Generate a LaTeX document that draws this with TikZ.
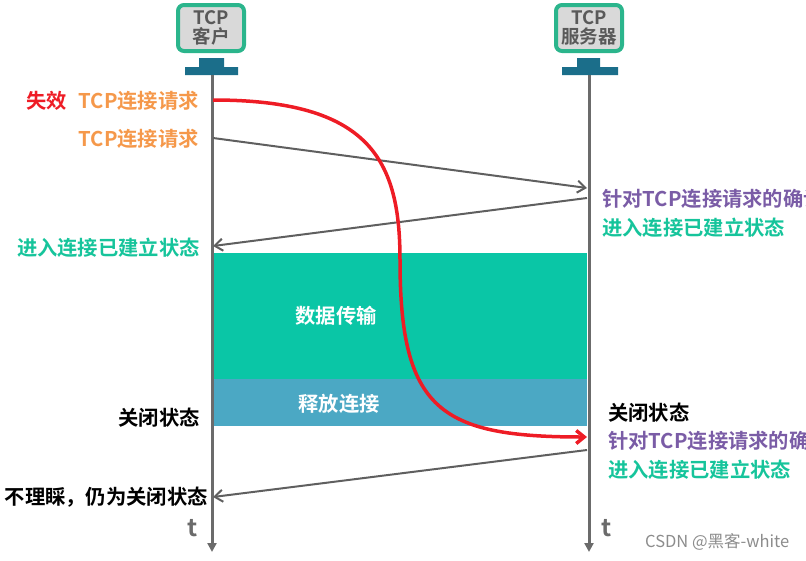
\documentclass[tikz,border=0pt]{standalone}
\usepackage{fontspec}
\setmainfont{Noto Sans CJK SC}[BoldFont={* Bold}]
\usetikzlibrary{arrows.meta}
\definecolor{boxgreen}{HTML}{2BB58C}
\definecolor{boxgrey}{HTML}{D9D9D9}
\definecolor{stemblue}{HTML}{1B6E8A}
\definecolor{lifegrey}{HTML}{6B6B6B}
\definecolor{arrgrey}{HTML}{5F5F5F}
\definecolor{failred}{HTML}{EE1C25}
\definecolor{reqorange}{HTML}{F5984A}
\definecolor{ackpurple}{HTML}{7A5CA6}
\definecolor{estgreen}{HTML}{16C49B}
\definecolor{datagreen}{HTML}{0AC6A6}
\definecolor{relblue}{HTML}{4BA8C4}
\tikzset{
  lbl/.style={font=\fontsize{20.3}{23}\selectfont\bfseries, inner sep=0pt},
  host/.style={draw=boxgreen, line width=4pt, fill=boxgrey, rounded corners=6pt,
    minimum width=66pt, minimum height=46pt, align=center, text=black!65,
    font=\fontsize{18.5}{19}\selectfont\bfseries, inner sep=0pt},
  life/.style={draw=lifegrey, line width=3pt, -{Triangle[length=9pt,width=9pt]}},
  msg/.style={draw=arrgrey, line width=2pt, -{Straight Barb[length=8pt,width=12pt]}},
}
\begin{document}
\begin{tikzpicture}[x=1pt,y=-1pt]
  \useasboundingbox (0,0) rectangle (806,560);
  \clip (0,0) rectangle (806,560);

  % hosts
  \node[host] (client) at (211,28) {TCP\\客户};
  \node[host] (server) at (589,28) {TCP\\服务器};
  \fill[stemblue] (199,58) rectangle (224,67) (185,67) rectangle (238,75);
  \fill[stemblue] (577,58) rectangle (600,67) (562,67) rectangle (618,75);
  \coordinate (ctop) at (212,75);
  \coordinate (stop) at (589,75);
  \coordinate (cend) at (212,552);
  \coordinate (send) at (589,552);

  % data and release phases
  \fill[datagreen] (213,253) rectangle (587,379);
  \fill[relblue] (213,379) rectangle (587,426);
  \node[lbl, text=white] (data) at (336,316) {数据传输};
  \node[lbl, text=white] (release) at (339,404) {释放连接};

  % lifelines
  \draw[life] (ctop) -- (cend);
  \draw[life] (stop) -- (send);
  \node[font=\fontsize{24}{24}\selectfont\bfseries, text=lifegrey] (tc) at (193,528) {t};
  \node[font=\fontsize{24}{24}\selectfont\bfseries, text=lifegrey] (ts) at (607,528) {t};

  % messages
  \coordinate (c0) at (213,100);
  \coordinate (c1) at (213,138);
  \coordinate (s1) at (587,188);
  \coordinate (s2) at (587,198);
  \coordinate (c2) at (213,246);
  \coordinate (s3) at (587,437);
  \coordinate (s4) at (587,450);
  \coordinate (c4) at (213,497);
  \draw[msg] (c1) -- (s1);
  \draw[msg] (s2) -- (c2);
  \draw[msg] (s4) -- (c4);
  \draw[failred, line width=3.5pt, -{Straight Barb[length=8pt,width=13pt]}]
    (c0) .. controls (370,100) and (400,160) .. (400,260)
         .. controls (400,410) and (440,437) .. (s3);

  % client side labels
  \node[lbl, text=reqorange, anchor=east] (req1) at (199,101) {TCP连接请求};
  \node[lbl, text=failred, anchor=east] (fail) at ([xshift=-11pt]req1.west) {失效};
  \node[lbl, text=reqorange, anchor=east] (req2) at (199,139) {TCP连接请求};
  \node[lbl, text=estgreen, anchor=east] (cest) at (200,248) {进入连接已建立状态};
  \node[lbl, text=black, anchor=east] (cclose) at (200,418) {关闭状态};
  \node[lbl, text=black, anchor=east] (cignore) at (208,497) {不理睬，仍为关闭状态};

  % server side labels
  \node[lbl, text=ackpurple, anchor=west] (ack1) at (602,199) {针对TCP连接请求的确认};
  \node[lbl, text=estgreen, anchor=west] (sest1) at (602,228) {进入连接已建立状态};
  \node[lbl, text=black, anchor=west] (sclose) at (608,413) {关闭状态};
  \node[lbl, text=ackpurple, anchor=west] (ack2) at (608,441) {针对TCP连接请求的确认};
  \node[lbl, text=estgreen, anchor=west] (sest2) at (608,470) {进入连接已建立状态};

  % watermark
  \node[font=\fontsize{16.5}{17}\selectfont, text=black!45, anchor=west, inner sep=0pt] (mark) at (645,542) {CSDN @黑客-white};
\end{tikzpicture}
\end{document}
